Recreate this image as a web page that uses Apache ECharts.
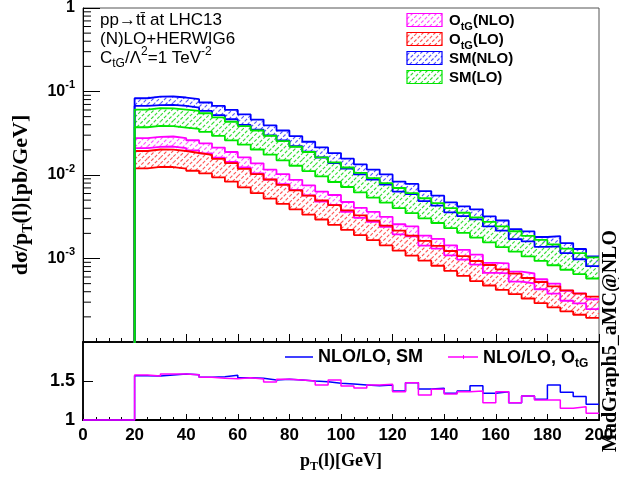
<!DOCTYPE html>
<html>
<head>
<meta charset="utf-8">
<script src="https://cdn.jsdelivr.net/npm/echarts@6/dist/echarts.min.js"></script>
<style>
  html, body { margin: 0; padding: 0; background: #fff; }
  #main { width: 619px; height: 478px; }
</style>
</head>
<body>
<div id="main"></div>
<script>
// bin edges in pT(l) [GeV]
const ptEdges = [0, 5, 10, 15, 20, 25, 30, 35, 40, 45, 50, 55, 60, 65, 70, 75, 80, 85, 90, 95, 100,
  105, 110, 115, 120, 125, 130, 135, 140, 145, 150, 155, 160, 165, 170, 175, 180, 185, 190, 195, 200]

// dsigma/dpT [pb/GeV], upper / lower edge of each band (first 4 bins empty)
const smNloUp = [0, 0, 0, 0, 0.0830, 0.0868, 0.0871, 0.0847, 0.0809, 0.0738, 0.0672, 0.0601, 0.0532, 0.0461,
  0.0394, 0.0341, 0.0292, 0.0250, 0.0214, 0.0183, 0.0157, 0.0134, 0.0116, 0.01015, 0.00835, 0.00781, 0.00642,
  0.00565, 0.00470, 0.00422, 0.00388, 0.00319, 0.00285, 0.00225, 0.00211, 0.00181, 0.00185, 0.00153, 0.00130, 0.00106]
const smNloDn = [0, 0, 0, 0, 0.0671, 0.0688, 0.0691, 0.0671, 0.0641, 0.0585, 0.0520, 0.0465, 0.0398, 0.0350,
  0.0299, 0.0259, 0.0221, 0.0190, 0.0162, 0.0139, 0.0119, 0.0102, 0.0088, 0.00770, 0.00633, 0.00592, 0.00487,
  0.00429, 0.00356, 0.00321, 0.00294, 0.00242, 0.00216, 0.00171, 0.00160, 0.00138, 0.00140, 0.00116, 0.00098, 0.00081]
const smLoUp = [0, 0, 0, 0, 0.0608, 0.0631, 0.0628, 0.0608, 0.0585, 0.0549, 0.0491, 0.0434, 0.0385, 0.0341,
  0.0295, 0.0254, 0.0218, 0.01885, 0.01625, 0.01414, 0.01230, 0.01060, 0.00916, 0.00798, 0.00699, 0.00606, 0.00527,
  0.00461, 0.00402, 0.00353, 0.00310, 0.00275, 0.00242, 0.00212, 0.00187, 0.00167, 0.00148, 0.00131, 0.00116, 0.00103]
const smLoDn = [0, 0, 0, 0, 0.0373, 0.0387, 0.0385, 0.0370, 0.0356, 0.0329, 0.0294, 0.0260, 0.0231, 0.0202,
  0.0175, 0.0150, 0.0129, 0.01115, 0.00962, 0.00825, 0.00718, 0.00619, 0.00535, 0.00466, 0.00402, 0.00349, 0.00303,
  0.00266, 0.00231, 0.00203, 0.00178, 0.00156, 0.00137, 0.00121, 0.00106, 0.000935, 0.000830, 0.000733, 0.000651, 0.000576]
const otgNloUp = [0, 0, 0, 0, 0.02764, 0.02856, 0.02890, 0.02771, 0.02606, 0.02394, 0.02131, 0.01886, 0.01626, 0.01380,
  0.01159, 0.01022, 0.00876, 0.00750, 0.00634, 0.00576, 0.00475, 0.00405, 0.00362, 0.00316, 0.00257, 0.00242, 0.00188,
  0.00172, 0.00144, 0.00127, 0.00111, 0.000884, 0.000874, 0.000696, 0.000661, 0.000564, 0.000501, 0.000411, 0.000382, 0.000325]
const otgNloDn = [0, 0, 0, 0, 0.02098, 0.02167, 0.02193, 0.02103, 0.01977, 0.01816, 0.01617, 0.01431, 0.01233, 0.01047,
  0.00880, 0.00775, 0.00665, 0.00569, 0.00481, 0.00437, 0.00361, 0.00307, 0.00274, 0.00240, 0.00195, 0.00184, 0.00143,
  0.00131, 0.00109, 0.000967, 0.000846, 0.000671, 0.000663, 0.000528, 0.000502, 0.000428, 0.000380, 0.000312, 0.000290, 0.000247]
const otgLoUp = [0, 0, 0, 0, 0.01939, 0.02021, 0.02010, 0.01938, 0.01835, 0.01739, 0.01561, 0.01385, 0.01184, 0.01024,
  0.00883, 0.00761, 0.00655, 0.00566, 0.00495, 0.00435, 0.00377, 0.00328, 0.00284, 0.00248, 0.00216, 0.00188, 0.00163,
  0.00142, 0.00123, 0.00107, 0.000933, 0.000836, 0.000740, 0.000658, 0.000584, 0.000523, 0.000464, 0.000416, 0.000380, 0.000349]
const otgLoDn = [0, 0, 0, 0, 0.01202, 0.01253, 0.01246, 0.01189, 0.01125, 0.01045, 0.00938, 0.00833, 0.00712, 0.00606,
  0.00522, 0.00450, 0.00388, 0.00335, 0.00293, 0.00253, 0.00220, 0.00191, 0.00166, 0.00144, 0.00124, 0.00108, 0.000941,
  0.000819, 0.000710, 0.000618, 0.000537, 0.000475, 0.000420, 0.000374, 0.000332, 0.000292, 0.000260, 0.000233, 0.000212, 0.000195]

// NLO/LO ratios
const ratioSM = [1, 1, 1, 1, 1.568, 1.564, 1.577, 1.59, 1.58, 1.547, 1.555, 1.573, 1.542, 1.534, 1.513, 1.522, 1.513,
  1.5, 1.49, 1.47, 1.46, 1.45, 1.44, 1.449, 1.372, 1.478, 1.397, 1.406, 1.342, 1.372, 1.44, 1.342, 1.363, 1.222,
  1.308, 1.265, 1.449, 1.355, 1.3, 1.201]
const ratioOtG = [1, 1, 1, 1, 1.577, 1.564, 1.59, 1.59, 1.58, 1.547, 1.534, 1.53, 1.542, 1.525, 1.487, 1.522, 1.513,
  1.5, 1.45, 1.513, 1.436, 1.41, 1.45, 1.457, 1.363, 1.478, 1.32, 1.393, 1.333, 1.363, 1.372, 1.222, 1.363, 1.222,
  1.308, 1.256, 1.256, 1.15, 1.171, 1.085]

const SANS = 'Liberation Sans'
const SERIF = 'Liberation Serif'

const C_MAG = '#ff00ff', C_RED = '#ff0000', C_BLUE = '#0000ff', C_GREEN = '#00e600'
const H_MAG = '#ff55ff', H_RED = '#ff5555', H_BLUE = '#5555ff', H_GREEN = '#33dd33'

// svg path of diagonal "/" hatching inside a box, aligned on a global grid so bins join up;
// each diagonal is cut into short dashes
function hatchPath(x0, y0, x1, y1) {
  const sp = 6, dash = 2.4, gap = 1.2
  let d = ''
  const kMin = Math.ceil((x0 + y0) / sp) * sp
  for (let k = kMin; k <= x1 + y1; k += sp) {
    const xa = Math.max(x0, k - y1), xb = Math.min(x1, k - y0)
    for (let x = xa; x < xb - 0.3; x += dash + gap) {
      const xe = Math.min(x + dash, xb)
      d += 'M' + x.toFixed(2) + ' ' + (k - x).toFixed(2) + 'L' + xe.toFixed(2) + ' ' + (k - xe).toFixed(2)
    }
  }
  return d || 'M0 0'
}

function stepPoints(vals, floor) {
  const pts = []
  for (let i = 0; i < vals.length; i++) {
    const v = vals[i] > 0 ? vals[i] : floor
    pts.push([ptEdges[i], v], [ptEdges[i + 1], v])
  }
  return pts
}

function bandBins(lo, hi) {
  const out = []
  for (let i = 0; i < lo.length; i++) {
    if (hi[i] > 0) out.push([ptEdges[i], ptEdges[i + 1], lo[i], hi[i]])
  }
  return out
}

function band(name, lo, hi, color, hatchColor) {
  return [
    {
      type: 'custom', name: name, xAxisIndex: 0, yAxisIndex: 0,
      data: bandBins(lo, hi),
      encode: { x: [0, 1], y: [2, 3] },
      itemStyle: { color: hatchColor },
      renderItem: function (params, api) {
        const a = api.coord([api.value(0), api.value(3)])
        const b = api.coord([api.value(1), api.value(2)])
        return {
          type: 'path',
          shape: { pathData: hatchPath(a[0], a[1], b[0], b[1]) },
          style: { stroke: hatchColor, fill: 'none', lineWidth: 1.1 }
        }
      }
    },
    {
      type: 'line', xAxisIndex: 0, yAxisIndex: 0, data: stepPoints(hi, 1e-6),
      symbol: 'none', lineStyle: { color: color, width: 1.8 }
    },
    {
      type: 'line', xAxisIndex: 0, yAxisIndex: 0, data: stepPoints(lo, 1e-6),
      symbol: 'none', lineStyle: { color: color, width: 1.8 }
    }
  ]
}

// minor ticks of the log axis (2..9 per decade)
const logMinor = []
for (let k = -4; k < 0; k++) {
  for (let m = 2; m <= 9; m++) logMinor.push([0, m * Math.pow(10, k)])
}

// legend entries, top right
const legendItems = [
  { text: '{m|O}{d|tG}{m|(NLO)}', stroke: C_MAG, hatch: H_MAG },
  { text: '{m|O}{d|tG}{m|(LO)}', stroke: C_RED, hatch: H_RED },
  { text: '{m|SM(NLO)}', stroke: C_BLUE, hatch: H_BLUE },
  { text: '{m|SM(LO)}', stroke: C_GREEN, hatch: H_GREEN }
]
const LEG_X = 407, LEG_Y = 20, LEG_STEP = 19

const chart = echarts.init(document.getElementById('main'), null, { renderer: 'canvas' })

const supRich = {
  b: { fontFamily: SANS, fontWeight: 'bold', fontSize: 16, lineHeight: 24, color: '#000' },
  s: { fontFamily: SANS, fontWeight: 'bold', fontSize: 11, lineHeight: 11, verticalAlign: 'top', color: '#000' }
}

const option = {
  animation: false,
  backgroundColor: '#fff',
  grid: [
    { left: 83, top: 8, width: 516, height: 334, show: true, borderColor: '#555', borderWidth: 1 },
    { left: 83, top: 342, width: 516, height: 78, show: true, borderColor: '#000', borderWidth: 1.5 }
  ],
  xAxis: [
    {
      gridIndex: 0, type: 'value', min: 0, max: 200, interval: 20,
      axisLine: { lineStyle: { color: '#000', width: 1.5 } },
      axisTick: { inside: true, length: 8, lineStyle: { color: '#000' } },
      minorTick: { show: true, splitNumber: 4, length: 4, lineStyle: { color: '#000' } },
      axisLabel: { show: false }, splitLine: { show: false }
    },
    {
      gridIndex: 1, type: 'value', min: 0, max: 200, interval: 20,
      axisLine: { lineStyle: { color: '#000', width: 2 } },
      axisTick: { inside: true, length: 6, lineStyle: { color: '#000' } },
      minorTick: { show: true, splitNumber: 4, length: 3, lineStyle: { color: '#000' } },
      axisLabel: { fontFamily: SANS, fontWeight: 'bold', fontSize: 17, color: '#000', margin: 7 },
      splitLine: { show: false }
    }
  ],
  yAxis: [
    {
      gridIndex: 0, type: 'log', logBase: 10, min: 1e-4, max: 1,
      axisLine: { show: true, lineStyle: { color: '#000', width: 1 } },
      axisTick: { inside: true, length: 17, lineStyle: { color: '#000' } },
      splitLine: { show: false },
      axisLabel: {
        margin: 8,
        formatter: function (v) {
          const p = Math.round(Math.log10(v))
          if (p === 0) return '{b|1}'
          if (p < -3) return ''
          return '{b|10}{s|' + p + '}'
        },
        rich: supRich
      }
    },
    {
      gridIndex: 1, type: 'value', min: 1, max: 2, interval: 0.5,
      axisLine: { show: true, lineStyle: { color: '#000', width: 1.5 } },
      axisTick: { inside: true, length: 10, lineStyle: { color: '#000' } },
      splitLine: { show: false },
      axisLabel: {
        fontFamily: SANS, fontWeight: 'bold', fontSize: 18, color: '#000', margin: 8,
        formatter: function (v) { return v >= 2 ? '' : (v === 1 ? '1' : '1.5') }
      }
    }
  ],
  series: [].concat(
    band('OtG(NLO)', otgNloDn, otgNloUp, C_MAG, H_MAG),
    band('OtG(LO)', otgLoDn, otgLoUp, C_RED, H_RED),
    band('SM(NLO)', smNloDn, smNloUp, C_BLUE, H_BLUE),
    band('SM(LO)', smLoDn, smLoUp, C_GREEN, H_GREEN),
    [
      {
        type: 'custom', xAxisIndex: 0, yAxisIndex: 0, data: logMinor, silent: true,
        renderItem: function (params, api) {
          const p = api.coord([api.value(0), api.value(1)])
          return { type: 'line', shape: { x1: p[0], y1: p[1], x2: p[0] + 8, y2: p[1] }, style: { stroke: '#000', lineWidth: 1 } }
        }
      },
      {
        // hatched boxes of the legend
        type: 'custom', coordinateSystem: 'none', silent: true, z: 5,
        data: legendItems.map(function (it, i) { return [i] }),
        renderItem: function (params, api) {
          const i = api.value(0)
          const cy = LEG_Y + i * LEG_STEP
          return {
            type: 'path',
            shape: { pathData: hatchPath(LEG_X, cy - 6.5, LEG_X + 35, cy + 6.5) },
            style: { stroke: legendItems[i].hatch, fill: 'none', lineWidth: 1.1 }
          }
        }
      },
      {
        type: 'line', xAxisIndex: 1, yAxisIndex: 1, data: stepPoints(ratioSM, 1), clip: false,
        symbol: 'none', lineStyle: { color: C_BLUE, width: 1.5 }
      },
      {
        type: 'line', xAxisIndex: 1, yAxisIndex: 1, data: stepPoints(ratioOtG, 1), clip: false,
        symbol: 'none', lineStyle: { color: C_MAG, width: 1.5 }
      }
    ]
  ),
  graphic: []
}

const mainR = { fontFamily: SANS, fontSize: 17, lineHeight: 24, fill: '#000' }
const subR = { fontFamily: SANS, fontSize: 12, lineHeight: 12, verticalAlign: 'bottom', fill: '#000' }
const supR = { fontFamily: SANS, fontSize: 12, lineHeight: 12, verticalAlign: 'top', fill: '#000' }

function label(x, y, text, rich, extra) {
  return Object.assign({
    type: 'text', x: x, y: y, z: 100,
    style: { text: text, rich: rich, align: 'left', verticalAlign: 'middle', textAlign: 'left', textVerticalAlign: 'middle' }
  }, extra || {})
}

const G = option.graphic

// process text, top left
G.push(label(100, 20, '{m|pp\u2192tt\u0304 at LHC13}', { m: mainR }))
G.push(label(100, 39, '{m|(N)LO+HERWIG6}', { m: mainR }))
G.push(label(100, 58, '{m|C}{d|tG}{m|/\u039B}{u|2}{m|=1 TeV}{u|-2}', { m: mainR, d: subR, u: supR }))

const boldR = { fontFamily: SANS, fontWeight: 'bold', fontSize: 15, lineHeight: 22, fill: '#000' }
const boldSub = { fontFamily: SANS, fontWeight: 'bold', fontSize: 11, lineHeight: 11, verticalAlign: 'bottom', fill: '#000' }
legendItems.forEach(function (it, i) {
  const cy = LEG_Y + i * LEG_STEP
  G.push({ type: 'rect', z: 101, shape: { x: LEG_X, y: cy - 6.5, width: 35, height: 13 },
    style: { fill: 'none', stroke: it.stroke, lineWidth: 1.2 } })
  G.push(label(449, cy + 1, it.text, { m: boldR, d: boldSub }))
})

// ratio legend
const rBold = { fontFamily: SANS, fontWeight: 'bold', fontSize: 18, lineHeight: 24, fill: '#000' }
const rSub = { fontFamily: SANS, fontWeight: 'bold', fontSize: 12, lineHeight: 12, verticalAlign: 'bottom', fill: '#000' }
G.push({ type: 'line', z: 100, shape: { x1: 285, y1: 357, x2: 313, y2: 357 }, style: { stroke: C_BLUE, lineWidth: 1.5 } })
G.push(label(318, 357, '{m|NLO/LO, SM}', { m: rBold }))
G.push({ type: 'line', z: 100, shape: { x1: 448, y1: 357, x2: 478, y2: 357 }, style: { stroke: C_MAG, lineWidth: 1.5 } })
G.push({ type: 'line', z: 100, shape: { x1: 463.5, y1: 355, x2: 463.5, y2: 359 }, style: { stroke: C_MAG, lineWidth: 1 } })
G.push(label(483, 358, '{m|NLO/LO, O}{d|tG}', { m: rBold, d: rSub }))

// axis titles
const tBold = { fontFamily: SERIF, fontWeight: 'bold', fontSize: 18, lineHeight: 24, fill: '#000' }
const tSub = { fontFamily: SERIF, fontWeight: 'bold', fontSize: 12, lineHeight: 12, verticalAlign: 'bottom', fill: '#000' }
const yBold = { fontFamily: SERIF, fontWeight: 'bold', fontSize: 22, lineHeight: 28, fill: '#000' }
const ySub = { fontFamily: SERIF, fontWeight: 'bold', fontSize: 14, lineHeight: 14, verticalAlign: 'bottom', fill: '#000' }
G.push({
  type: 'text', x: 21, y: 195, rotation: Math.PI / 2, z: 100,
  style: { text: '{m|d\u03C3/p}{d|T}{m|(l)[pb/GeV]}', rich: { m: yBold, d: ySub },
    align: 'center', verticalAlign: 'middle', textAlign: 'center', textVerticalAlign: 'middle' }
})
G.push({
  type: 'text', x: 341, y: 461, z: 100,
  style: { text: '{m|p}{d|T}{m|(l)[GeV]}', rich: { m: tBold, d: tSub },
    align: 'center', verticalAlign: 'middle', textAlign: 'center', textVerticalAlign: 'middle' }
})
G.push({
  type: 'text', x: 611, y: 341, rotation: Math.PI / 2, z: 100,
  style: { text: 'MadGraph5_aMC@NLO', font: 'bold 20px "Liberation Serif"', fill: '#000',
    align: 'center', verticalAlign: 'middle', textAlign: 'center', textVerticalAlign: 'middle' }
})

chart.setOption(option)
</script>
</body>
</html>
